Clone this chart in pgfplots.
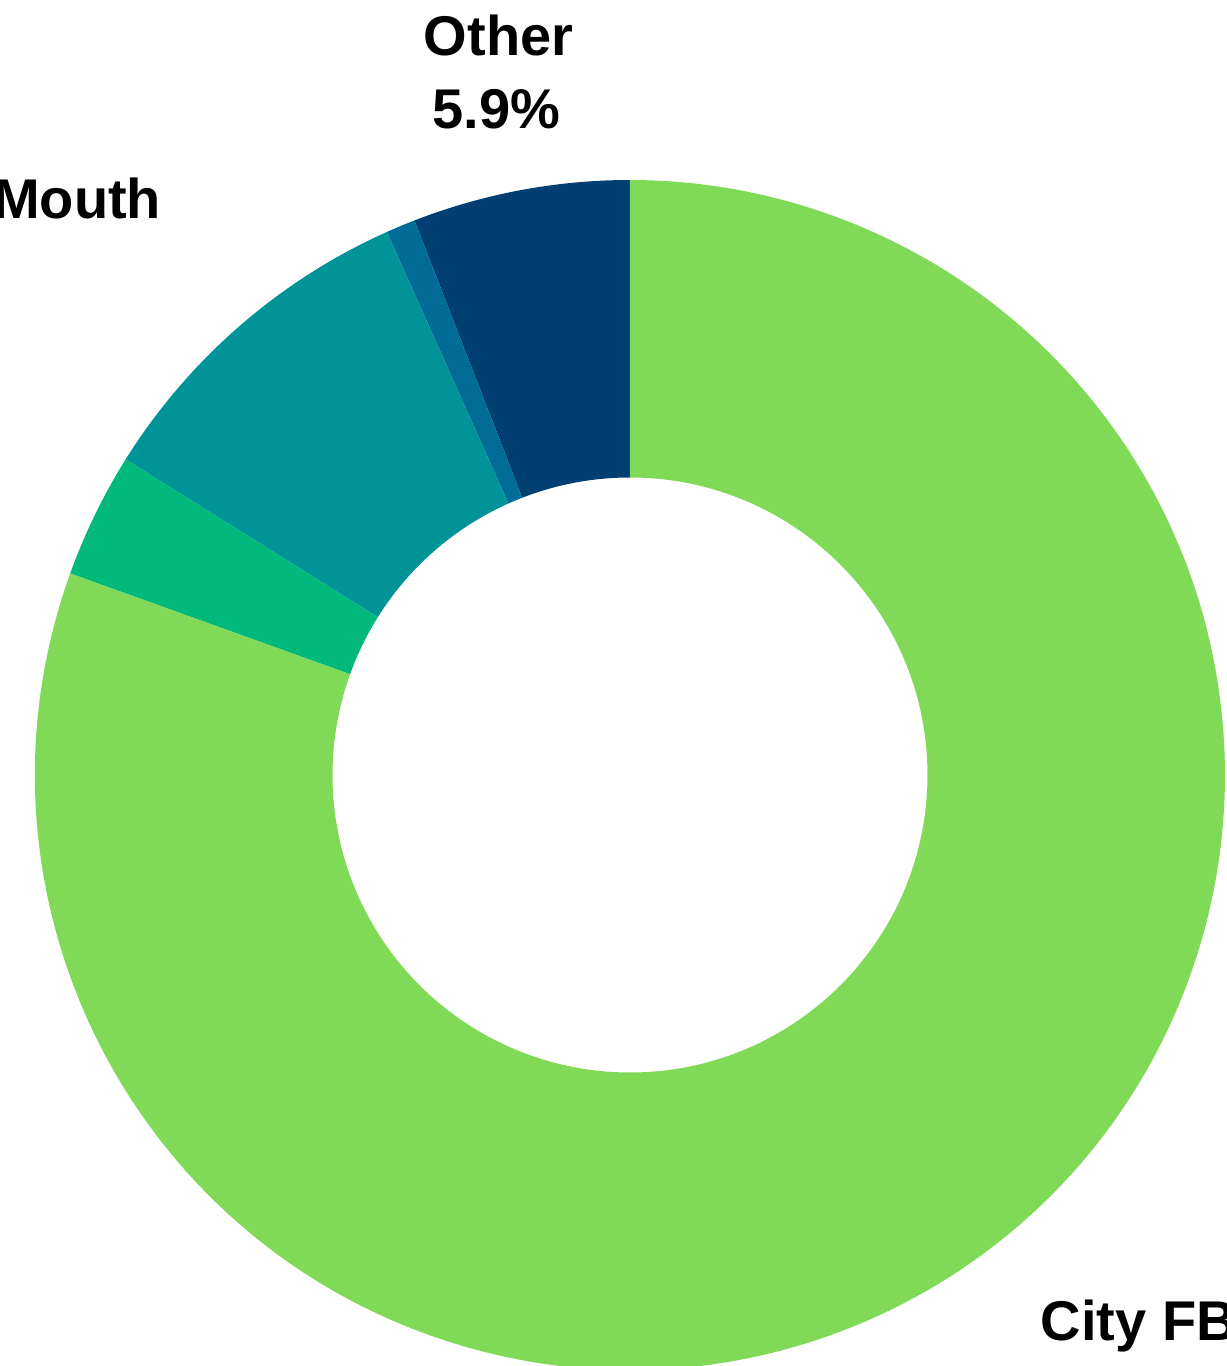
\documentclass[border=0pt]{standalone}
\usepackage{fontspec}
\setmainfont{Liberation Sans}
\usepackage{pgfplots}
\usepackage{pgfplotstable}
\pgfplotsset{compat=1.18}

\definecolor{cOther}{HTML}{003F72}
\definecolor{cSmall}{HTML}{006B96}
\definecolor{cMouth}{HTML}{009499}
\definecolor{cGreen}{HTML}{00B97B}
\definecolor{cCity}{HTML}{80DA58}

\tikzset{lbl/.style={font=\bfseries\fontsize{14}{17}\selectfont, inner sep=0pt}}

% shares in percent, counter-clockwise from 12 o'clock
\pgfplotstableread{
share colour
5.9  cOther
0.8  cSmall
9.4  cMouth
3.4  cGreen
80.5 cCity
}\shares

\begin{document}
\begin{tikzpicture}
\begin{axis}[x=148.75pt, y=148.75pt, scale only axis, hide axis, clip=false,
  xmin=-1.05882, xmax=1.00336, ymin=-0.99328, ymax=1.30252]
\pgfplotsextra{
  \pgfplotstablegetrowsof{\shares}
  \pgfmathtruncatemacro\nlast{\pgfplotsretval-1}
  \gdef\startang{90}
  \foreach \i in {0,...,\nlast}{
    \pgfplotstablegetelem{\i}{share}\of\shares \let\segval\pgfplotsretval
    \pgfplotstablegetelem{\i}{colour}\of\shares \let\segcol\pgfplotsretval
    \pgfmathsetmacro\endang{\startang+3.6*\segval}
    \fill[\segcol] (axis cs:{cos(\startang)},{sin(\startang)})
      arc[start angle=\startang, end angle=\endang, radius=148.75pt]
      -- (axis cs:{0.5*cos(\endang)},{0.5*sin(\endang)})
      arc[start angle=\endang, end angle=\startang, radius=74.375pt] -- cycle;
    \xdef\startang{\endang}
  }
}
\node[lbl, anchor=base] at (axis cs:-0.221,1.210) {Other};
\node[lbl, anchor=base] at (axis cs:-0.225,1.087) {5.9\%};
\node[lbl, anchor=base east] at (axis cs:-0.7866,0.936) {Word of Mouth};
\node[lbl, anchor=base west] at (axis cs:0.689,-0.9496) {City FB};
\end{axis}
\pgfresetboundingbox
\path[use as bounding box] (current axis.south west) rectangle (current axis.north east);
\end{tikzpicture}
\end{document}
